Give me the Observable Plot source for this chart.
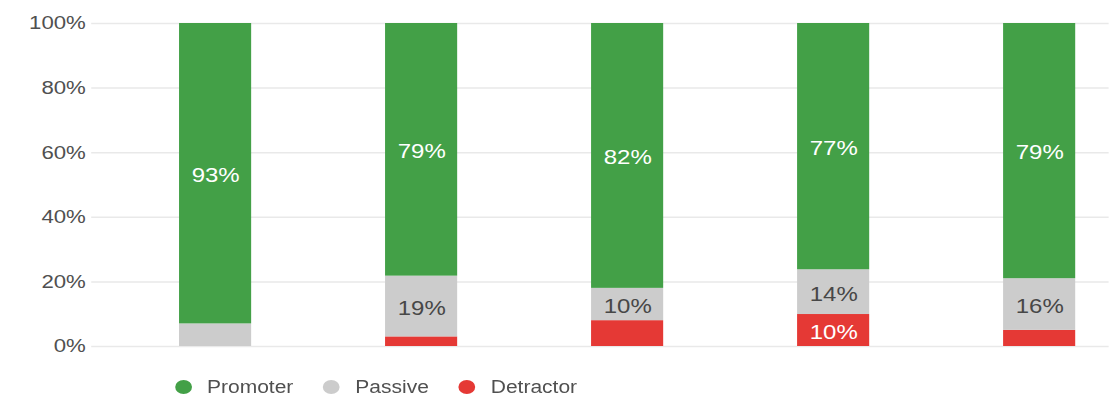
<!DOCTYPE html>
<html>
<head>
<meta charset="utf-8">
<script src="https://cdn.jsdelivr.net/npm/d3@7"></script>
<script src="https://cdn.jsdelivr.net/npm/@observablehq/plot@0.6"></script>
<style>
  html, body { margin: 0; padding: 0; background: #fff; overflow: hidden; }
  /* The chart is laid out at a narrower width and widened horizontally */
  #figure { width: 924px; transform: scaleX(1.2); transform-origin: 0 0;
            font-family: "Liberation Sans", Arial, sans-serif; }
  #figure svg { display: block; }
  .legend { display: flex; align-items: center; height: 20px; margin-top: 15px;
            padding-left: 145.5px; font-size: 17.5px; color: #505050; }
  .legend .item { display: flex; align-items: center; margin-right: 24.6px; }
  .legend .dot { width: 14px; height: 14px; border-radius: 50%; margin-right: 13px; }
</style>
</head>
<body>
<div id="figure"></div>
<script>
// Survey groups (no axis labels are shown for them)
const groups = ["1", "2", "3", "4", "5"];
// Response categories, bottom to top of each stack
const types = ["Detractor", "Passive", "Promoter"];
const colors = ["#e53935", "#cccccc", "#43a047"];
const legendOrder = ["Promoter", "Passive", "Detractor"];
// Share of respondents per group (%)
const promoter  = [93, 79, 82, 77, 79];
const passive   = [7, 19, 10, 14, 16];
const detractor = [0, 3, 8, 10, 5];
// Y axis ticks (%)
const yTicks = [0, 20, 40, 60, 80, 100];

const series = { Promoter: promoter, Passive: passive, Detractor: detractor };
const rows = groups.flatMap((g, i) =>
  types.map(t => ({ group: g, type: t, value: series[t][i] }))
);

const stack = (opts) => Plot.stackY({
  x: "group", y: "value", z: "type", order: types, offset: "normalize", ...opts
});

const chart = Plot.plot({
  width: 924,
  height: 362,
  marginTop: 23,
  marginBottom: 16,
  marginLeft: 76,
  marginRight: 0,
  style: { fontFamily: "Liberation Sans, Arial, sans-serif", background: "white" },
  x: { domain: groups, range: [149.2, 896], paddingInner: 0.65, paddingOuter: 0, align: 0, round: false, axis: null },
  y: { domain: [0, 1], axis: null },
  color: { domain: types, range: colors },
  marks: [
    Plot.ruleY(yTicks, { y: d => d / 100, stroke: "#e9e9e9", strokeWidth: 1.5 }),
    Plot.text(yTicks, {
      y: d => d / 100, text: d => d + "%", frameAnchor: "left",
      textAnchor: "end", dx: -5, fontSize: 18.5, fill: "#505050"
    }),
    Plot.barY(rows, stack({ fill: "type" })),
    Plot.text(rows, stack({
      text: d => d.type !== "Passive" && d.value >= 10 ? d.value + "%" : null,
      fill: "white", fontSize: 20, dy: 2
    })),
    Plot.text(rows, stack({
      text: d => d.type === "Passive" && d.value >= 10 ? d.value + "%" : null,
      fill: "#474747", fontSize: 20, dy: 2
    }))
  ]
});

const fig = document.getElementById("figure");
fig.appendChild(chart);

const legend = document.createElement("div");
legend.className = "legend";
for (const t of legendOrder) {
  const item = document.createElement("div");
  item.className = "item";
  const dot = document.createElement("span");
  dot.className = "dot";
  dot.style.background = colors[types.indexOf(t)];
  const label = document.createElement("span");
  label.textContent = t;
  item.append(dot, label);
  legend.appendChild(item);
}
fig.appendChild(legend);
</script>
</body>
</html>
